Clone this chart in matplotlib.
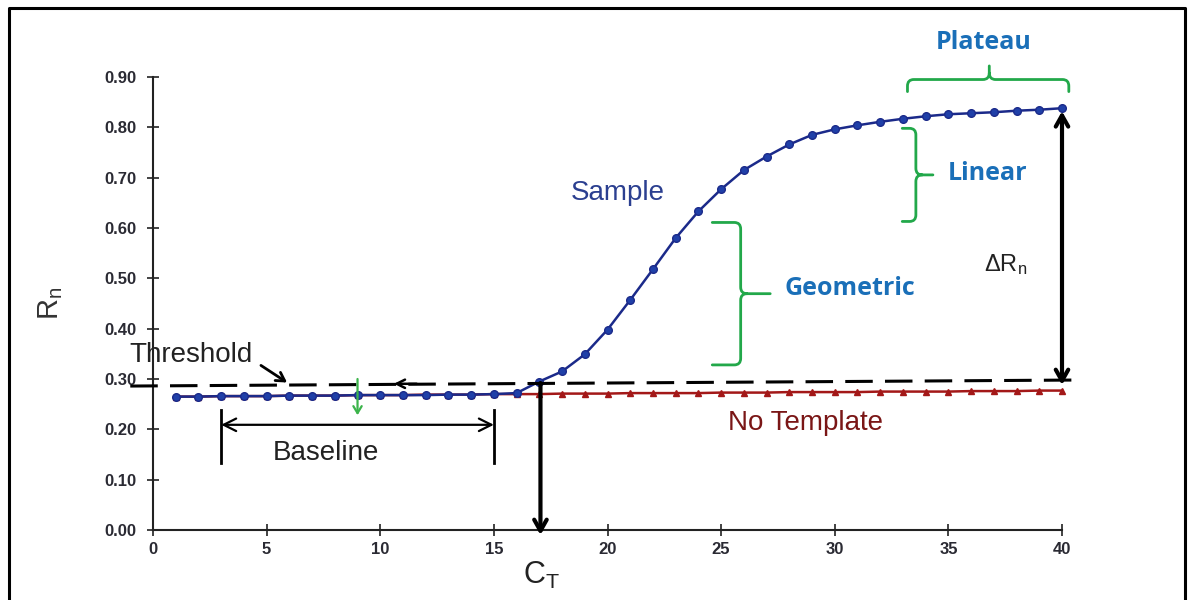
import matplotlib
matplotlib.use("Agg")
import matplotlib.pyplot as plt
from matplotlib.path import Path
from matplotlib.patches import PathPatch
from matplotlib.lines import Line2D

# ---------------- data ----------------
cycles = list(range(1, 41))
sample_rn = [0.265, 0.265, 0.266, 0.266, 0.266, 0.267, 0.267, 0.267, 0.268, 0.268,
             0.268, 0.268, 0.269, 0.269, 0.270, 0.272, 0.295, 0.315, 0.349, 0.398,
             0.457, 0.518, 0.580, 0.633, 0.677, 0.715, 0.742, 0.766, 0.785, 0.796,
             0.804, 0.811, 0.817, 0.822, 0.826, 0.828, 0.830, 0.833, 0.835, 0.838]
no_template_rn = [0.265, 0.265, 0.266, 0.266, 0.266, 0.267, 0.267, 0.267, 0.268, 0.268,
                  0.268, 0.269, 0.269, 0.269, 0.270, 0.270, 0.270, 0.271, 0.271, 0.271,
                  0.272, 0.272, 0.272, 0.272, 0.273, 0.273, 0.273, 0.274, 0.274, 0.274,
                  0.274, 0.275, 0.275, 0.275, 0.275, 0.276, 0.276, 0.276, 0.277, 0.277]
threshold_x = [-1.0, 40.8]
threshold_y = [0.286, 0.298]
x_ticks = [0, 5, 10, 15, 20, 25, 30, 35, 40]
y_ticks = [0.0, 0.1, 0.2, 0.3, 0.4, 0.5, 0.6, 0.7, 0.8, 0.9]
ct_cycle = 17.05
baseline_start, baseline_end = 3, 15

# ---------------- style ----------------
plt.rcParams['font.family'] = ['Liberation Sans', 'DejaVu Sans']
plt.rcParams['mathtext.fontset'] = 'custom'
plt.rcParams['mathtext.rm'] = 'Liberation Sans'
plt.rcParams['mathtext.it'] = 'Liberation Sans'

GREEN = '#22a84a'
LBLUE = '#1a6fb8'
NAVY = '#1b2a8a'
RED = '#a31818'
TXT = '#2a2a33'

fig = plt.figure(figsize=(11.88, 6), dpi=100)
fig.patch.set_facecolor('white')
ax = fig.add_axes([153 / 1188, 70 / 600, 909 / 1188, 453 / 600])
ax.set_xlim(0, 40)
ax.set_ylim(0, 0.9)
ax.patch.set_alpha(0)
for s in ['top', 'right']:
    ax.spines[s].set_visible(False)
for s in ['left', 'bottom']:
    ax.spines[s].set_linewidth(1.5)
    ax.spines[s].set_color('#222222')
ax.set_xticks(x_ticks)
ax.set_yticks(y_ticks)
ax.set_xticklabels([str(t) for t in x_ticks])
ax.set_yticklabels([f'{t:.2f}' for t in y_ticks])
ax.tick_params(axis='both', direction='inout', length=8, width=1.2, colors='#222222',
               labelsize=12, labelcolor=TXT)
ax.tick_params(axis='x', pad=5)
ax.tick_params(axis='y', pad=8)
for lbl in ax.get_xticklabels() + ax.get_yticklabels():
    lbl.set_fontweight('bold')

# ---------------- series ----------------
ax.plot(cycles, no_template_rn, color=RED, lw=1.8, marker='^', ms=5,
        mfc=RED, mec=RED, clip_on=False, zorder=4)
ax.plot(cycles, sample_rn, color=NAVY, lw=1.8, marker='o', ms=5.5,
        mfc='#2040a8', mec=NAVY, clip_on=False, zorder=5)
ax.plot(threshold_x, threshold_y, color='black', lw=2.2, dashes=(9, 4),
        clip_on=False, zorder=6)

# ---------------- text labels ----------------
ax.set_ylabel('R$_\\mathrm{n}$', fontsize=21, color='#333333', labelpad=28)
ax.text(1.67, 0.348, 'Threshold', fontsize=20, ha='center', va='center', color='#222222')
ax.text(7.62, 0.153, 'Baseline', fontsize=20, ha='center', va='center', color='#222222')
ax.text(20.44, 0.670, 'Sample', fontsize=20, ha='center', va='center', color='#2b3f90')
ax.text(28.72, 0.213, 'No Template', fontsize=20, ha='center', va='center', color='#7a1616')
ax.text(17.1, -0.09, 'C$_\\mathrm{T}$', fontsize=22, ha='center', va='center', color='#222222')
ax.text(37.5, 0.527, 'ΔR$_\\mathrm{n}$', fontsize=17, ha='center', va='center', color='#222222')

sans_bold = dict(family=['Open Sans', 'DejaVu Sans'], fontweight='bold', fontsize=18, color=LBLUE)
ax.text(36.55, 0.968, 'Plateau', ha='center', va='center', **sans_bold)
ax.text(36.73, 0.709, 'Linear', ha='center', va='center', **sans_bold)
ax.text(27.81, 0.480, 'Geometric', ha='left', va='center', **sans_bold)

# ---------------- arrows ----------------
def arrow(x0, y0, x1, y1, style, lw, color='black', hl=0.8, hw=0.45):
    ax.annotate('', xy=(x1, y1), xytext=(x0, y0), annotation_clip=False,
                arrowprops=dict(arrowstyle=f'{style},head_length={hl},head_width={hw}',
                                lw=lw, color=color, shrinkA=0, shrinkB=0), zorder=7)

arrow(ct_cycle, 0.292, ct_cycle, -0.01, '->', 3.0)
arrow(40.0, 0.288, 40.0, 0.832, '<->', 3.0)
arrow(baseline_start, 0.209, baseline_end, 0.209, '<->', 1.6, hl=0.9, hw=0.45)
ax.plot([baseline_start, baseline_start], [0.133, 0.239], color='black', lw=2.0, clip_on=False)
ax.plot([baseline_end, baseline_end], [0.133, 0.239], color='black', lw=2.0, clip_on=False)
arrow(4.75, 0.327, 5.9, 0.293, '->', 2.0, hl=0.6, hw=0.35)
arrow(11.6, 0.2905, 10.6, 0.2905, '->', 1.8, hl=0.6, hw=0.3)
arrow(9.0, 0.300, 9.0, 0.228, '->', 1.6, color='#3cb44b', hl=0.5, hw=0.3)

# ---------------- green braces ----------------
rx, ry = 0.28, 0.013

def brace_right(x, ytop, ybot, arm, tick):
    ymid = (ytop + ybot) / 2
    verts = [(x - arm, ytop), (x - rx, ytop), (x, ytop), (x, ytop - ry),
             (x, ymid + ry), (x, ymid), (x + rx, ymid), (x + tick, ymid),
             (x + rx, ymid), (x, ymid), (x, ymid - ry),
             (x, ybot + ry), (x, ybot), (x - rx, ybot), (x - arm, ybot)]
    codes = [Path.MOVETO, Path.LINETO, Path.CURVE3, Path.CURVE3,
             Path.LINETO, Path.CURVE3, Path.CURVE3, Path.LINETO,
             Path.MOVETO, Path.CURVE3, Path.CURVE3,
             Path.LINETO, Path.CURVE3, Path.CURVE3, Path.LINETO]
    ax.add_patch(PathPatch(Path(verts, codes), fill=False, edgecolor=GREEN, lw=2.0,
                           clip_on=False, capstyle='round', joinstyle='round'))

def brace_up(x0, x1, ybar, yleg, ytick):
    xm = (x0 + x1) / 2 + 0.05
    verts = [(x0, yleg), (x0, ybar - ry), (x0, ybar), (x0 + rx, ybar),
             (xm - rx, ybar), (xm, ybar), (xm, ybar + ry), (xm, ytick),
             (xm, ybar + ry), (xm, ybar), (xm + rx, ybar),
             (x1 - rx, ybar), (x1, ybar), (x1, ybar - ry), (x1, yleg)]
    codes = [Path.MOVETO, Path.LINETO, Path.CURVE3, Path.CURVE3,
             Path.LINETO, Path.CURVE3, Path.CURVE3, Path.LINETO,
             Path.MOVETO, Path.CURVE3, Path.CURVE3,
             Path.LINETO, Path.CURVE3, Path.CURVE3, Path.LINETO]
    ax.add_patch(PathPatch(Path(verts, codes), fill=False, edgecolor=GREEN, lw=2.0,
                           clip_on=False, capstyle='round', joinstyle='round'))

brace_up(33.2, 40.3, 0.895, 0.871, 0.922)
brace_right(33.57, 0.798, 0.613, 0.6, 0.75)
brace_right(25.86, 0.611, 0.328, 1.25, 1.3)

# ---------------- frame border ----------------
fig.add_artist(Line2D([8.5 / 1188, 8.5 / 1188, 1184.5 / 1188, 1184.5 / 1188],
                      [0, 1 - 8 / 600, 1 - 8 / 600, 0],
                      transform=fig.transFigure, color='black', lw=2.2))

fig.savefig('out.png', dpi=100)
